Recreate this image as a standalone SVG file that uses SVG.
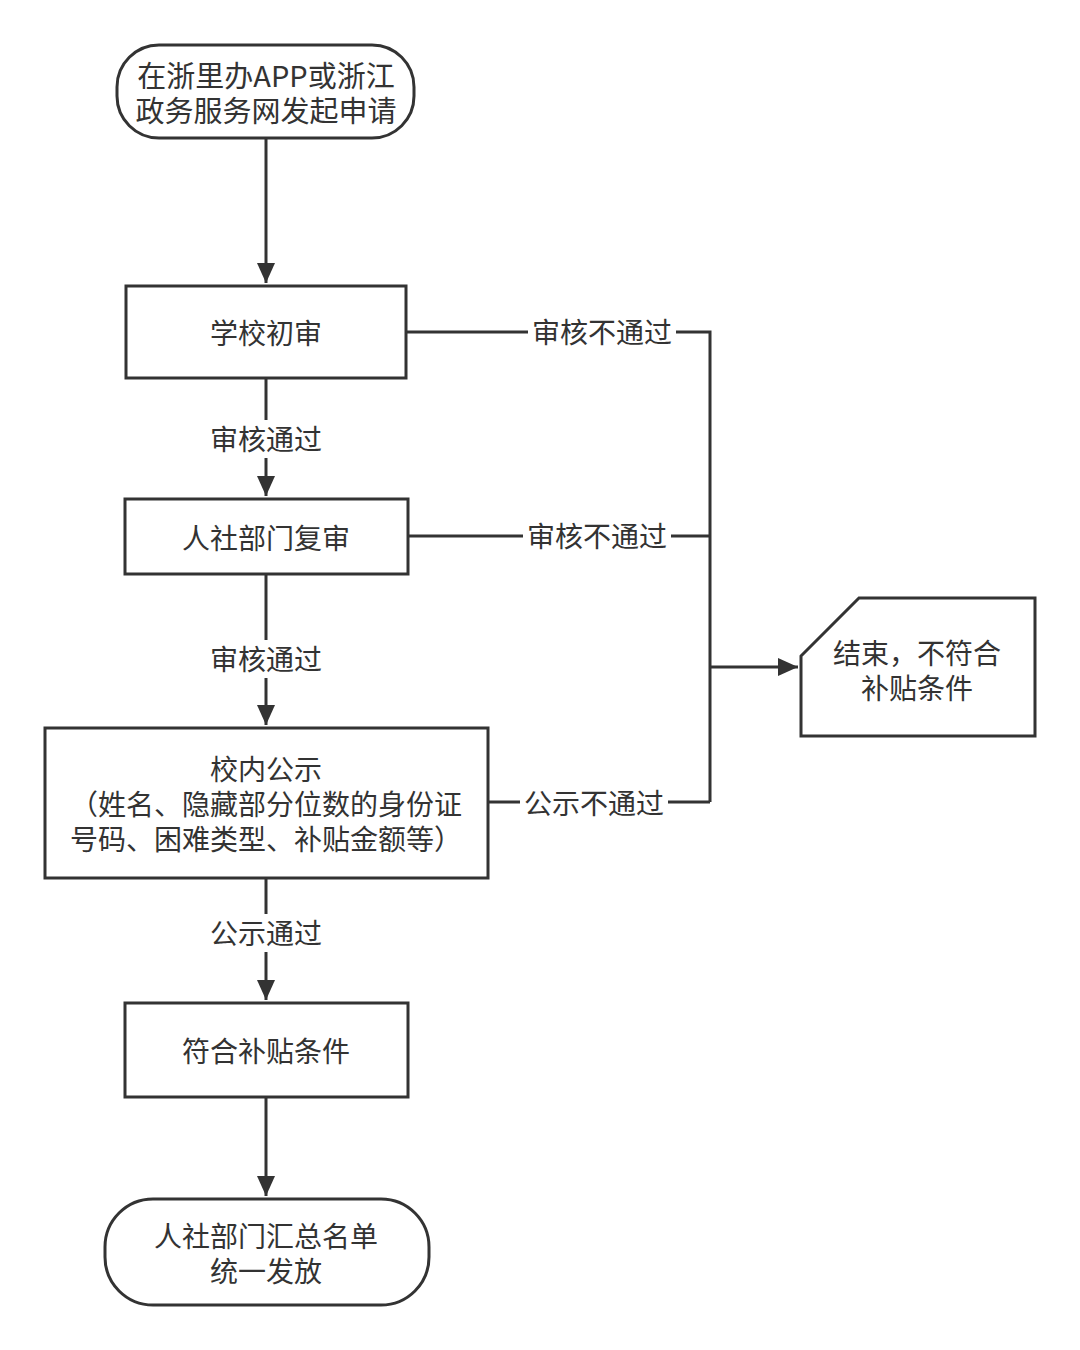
<svg xmlns="http://www.w3.org/2000/svg" width="1080" height="1350" viewBox="0 0 1080 1350">
<style>
.shape{fill:#fff;stroke:#333;stroke-width:3}
.line{fill:none;stroke:#333;stroke-width:3}
.t{font-family:"Noto Sans CJK SC","Noto Sans",sans-serif;font-size:28px;fill:#333;text-anchor:middle;dominant-baseline:central}
.bg{fill:#fff;stroke:none}
</style>
<defs>
<marker id="arr" markerUnits="userSpaceOnUse" markerWidth="20" markerHeight="18" viewBox="0 0 20 18" refX="20" refY="9" orient="auto">
<path d="M0,0 L20,9 L0,18 z" fill="#333"/>
</marker>
</defs>
<rect width="1080" height="1350" fill="#fff"/>
<g id="connectors">
<path class="line" d="M266,139 V283" marker-end="url(#arr)"/>
<path class="line" d="M266,379 V496" marker-end="url(#arr)"/>
<path class="line" d="M266,575 V725" marker-end="url(#arr)"/>
<path class="line" d="M266,879 V1000" marker-end="url(#arr)"/>
<path class="line" d="M266,1098 V1196" marker-end="url(#arr)"/>
<path class="line" d="M407,332 H710 V802"/>
<path class="line" d="M409,536 H710"/>
<path class="line" d="M489,802 H710"/>
<path class="line" d="M710,667 H798" marker-end="url(#arr)"/>
<rect class="bg" x="204" y="420" width="124" height="38"/>
<text class="t" x="266" y="438">审核通过</text>
<rect class="bg" x="204" y="640" width="124" height="38"/>
<text class="t" x="266" y="658">审核通过</text>
<rect class="bg" x="204" y="914" width="124" height="38"/>
<text class="t" x="266" y="932">公示通过</text>
<rect class="bg" x="528" y="313" width="148" height="38"/>
<text class="t" x="602" y="331">审核不通过</text>
<rect class="bg" x="523" y="517" width="148" height="38"/>
<text class="t" x="597" y="535">审核不通过</text>
<rect class="bg" x="520" y="783" width="148" height="38"/>
<text class="t" x="594" y="802">公示不通过</text>
</g>
<g id="start">
<rect class="shape" x="117" y="45" width="297" height="93" rx="42" ry="42"/>
<text class="t" x="266" y="74" style="font-size:29px">在浙里办APP或浙江</text>
<text class="t" x="266" y="109" style="font-size:29px">政务服务网发起申请</text>
</g>
<g id="school-review">
<rect class="shape" x="126" y="286" width="280" height="92"/>
<text class="t" x="266" y="332">学校初审</text>
</g>
<g id="hr-review">
<rect class="shape" x="125" y="499" width="283" height="75"/>
<text class="t" x="266" y="537">人社部门复审</text>
</g>
<g id="publicity">
<rect class="shape" x="45" y="728" width="443" height="150"/>
<text class="t" x="266" y="768">校内公示</text>
<text class="t" x="266" y="803">（姓名、隐藏部分位数的身份证</text>
<text class="t" x="266" y="838">号码、困难类型、补贴金额等）</text>
</g>
<g id="eligible">
<rect class="shape" x="125" y="1003" width="283" height="94"/>
<text class="t" x="266" y="1050">符合补贴条件</text>
</g>
<g id="end">
<rect class="shape" x="105" y="1199" width="324" height="106" rx="48" ry="48"/>
<text class="t" x="266" y="1235">人社部门汇总名单</text>
<text class="t" x="266" y="1270">统一发放</text>
</g>
<g id="reject">
<polygon class="shape" points="801,656 859,598 1035,598 1035,736 801,736"/>
<text class="t" x="917" y="652">结束，不符合</text>
<text class="t" x="917" y="687">补贴条件</text>
</g>
</svg>
